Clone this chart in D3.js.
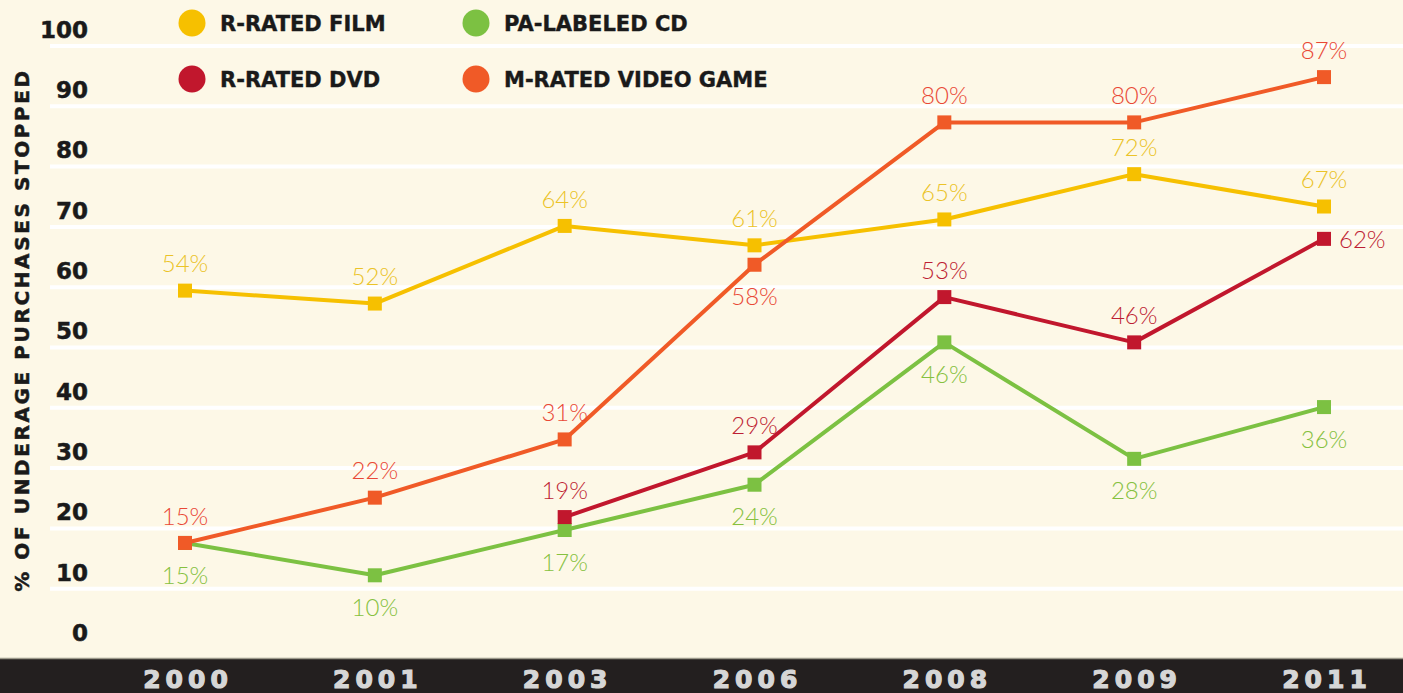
<!DOCTYPE html>
<html>
<head>
<meta charset="utf-8">
<script src="https://cdn.jsdelivr.net/npm/d3@7"></script>
<style>
  html, body { margin: 0; padding: 0; background: #fdf8e7; }
  svg { display: block; }
</style>
</head>
<body>
<script>
// data
const years = ['2000', '2001', '2003', '2006', '2008', '2009', '2011'];
const filmValues = [54, 52, 64, 61, 65, 72, 67];
const cdValues = [15, 10, 17, 24, 46, 28, 36];
const dvdValues = [null, null, 19, 29, 53, 46, 62];
const gameValues = [15, 22, 31, 58, 80, 80, 87];
const yTicks = [0, 10, 20, 30, 40, 50, 60, 70, 80, 90, 100];
const seriesNames = ['R-RATED FILM', 'PA-LABELED CD', 'R-RATED DVD', 'M-RATED VIDEO GAME'];

const width = 1403, height = 693;

// where each value label sits relative to its marker
const series = [
  { name: seriesNames[0], values: filmValues, line: '#f6c000', text: '#ebc328',
    place: ['up', 'up', 'up', 'up', 'up', 'up', 'up'] },
  { name: seriesNames[1], values: cdValues, line: '#7cc142', text: '#86c140',
    place: ['down', 'down', 'down', 'down', 'down', 'down', 'down'] },
  { name: seriesNames[2], values: dvdValues, line: '#c1172d', text: '#bd1f34',
    place: [null, null, 'up', 'up', 'up', 'up', 'right'] },
  { name: seriesNames[3], values: gameValues, line: '#f05a27', text: '#e94836',
    place: ['up', 'up', 'up', 'down', 'up', 'up', 'up'] }
];

const svg = d3.select('body').append('svg')
  .attr('width', width)
  .attr('height', height);

svg.append('rect')
  .attr('width', width).attr('height', height)
  .attr('fill', '#fdf8e7');

const x = d3.scalePoint().domain(years).range([185, 1324]);
// the printed tick labels and the plotted points use different spacing in the original
const yLabel = d3.scaleLinear().domain([0, 100]).range([633, 30]);
const y = d3.scaleLinear().domain([0, 100]).range([640, -7]);

// gridlines (white bands just under each tick label)
svg.append('g')
  .selectAll('line')
  .data(yTicks.filter(d => d > 0))
  .join('line')
  .attr('x1', 50).attr('x2', width)
  .attr('y1', d => yLabel(d) + 16).attr('y2', d => yLabel(d) + 16)
  .attr('stroke', '#ffffff')
  .attr('stroke-width', 4);

// y tick labels
const yAxis = svg.append('g')
  .attr('transform', 'translate(88,0)')
  .call(d3.axisLeft(yLabel).tickValues(yTicks).tickSize(0).tickPadding(0));
yAxis.select('.domain').remove();
yAxis.selectAll('text')
  .attr('font-family', 'DejaVu Sans')
  .attr('font-weight', 'bold')
  .attr('font-size', 23)
  .attr('fill', '#1a1a1a')
  .attr('stroke', '#1a1a1a')
  .attr('stroke-width', 0.5);

// y title
svg.append('text')
  .attr('transform', 'translate(29,330) rotate(-90)')
  .attr('text-anchor', 'middle')
  .attr('font-family', 'DejaVu Sans')
  .attr('font-weight', 'bold')
  .attr('font-size', 20)
  .attr('letter-spacing', 2.6)
  .attr('fill', '#1a1a1a')
  .attr('stroke', '#1a1a1a')
  .attr('stroke-width', 0.5)
  .text('% OF UNDERAGE PURCHASES STOPPED');

// bottom band with years
svg.append('rect')
  .attr('x', 0).attr('y', 658)
  .attr('width', width).attr('height', height - 658)
  .attr('fill', '#231f1f');
svg.append('line')
  .attr('x1', 0).attr('x2', width)
  .attr('y1', 658.5).attr('y2', 658.5)
  .attr('stroke', '#9d9a8c').attr('stroke-width', 1.5);

const xAxis = svg.append('g')
  .attr('transform', 'translate(0,679)')
  .call(d3.axisBottom(x).tickSize(0).tickPadding(0));
xAxis.select('.domain').remove();
xAxis.selectAll('text')
  .attr('dy', '0.36em')
  .attr('dx', 2.5)
  .attr('font-family', 'DejaVu Sans')
  .attr('font-weight', 'bold')
  .attr('font-size', 25)
  .attr('letter-spacing', 5)
  .attr('fill', '#d6d6d6')
  .attr('stroke', '#d6d6d6')
  .attr('stroke-width', 1.2);

// lines, markers, labels
const line = d3.line()
  .defined(d => d.v != null)
  .x(d => x(d.year))
  .y(d => y(d.v));

const marks = svg.append('g');
series.forEach(s => {
  const pts = years.map((year, j) => ({ year, v: s.values[j], place: s.place[j] }));
  const g = marks.append('g');
  g.append('path')
    .datum(pts)
    .attr('d', line)
    .attr('fill', 'none')
    .attr('stroke', s.line)
    .attr('stroke-width', 4)
    .attr('stroke-linejoin', 'round');
  const valid = pts.filter(d => d.v != null);
  g.selectAll('rect')
    .data(valid)
    .join('rect')
    .attr('x', d => x(d.year) - 7)
    .attr('y', d => y(d.v) - 7)
    .attr('width', 14).attr('height', 14)
    .attr('fill', s.line);
  g.selectAll('text')
    .data(valid)
    .join('text')
    .attr('x', d => d.place === 'right' ? x(d.year) + 15 : x(d.year))
    .attr('y', d => d.place === 'up' ? y(d.v) - 27 : d.place === 'down' ? y(d.v) + 32 : y(d.v))
    .attr('dy', '0.36em')
    .attr('text-anchor', d => d.place === 'right' ? 'start' : 'middle')
    .attr('font-family', 'Lato')
    .attr('font-weight', 300)
    .attr('font-size', 24)
    .attr('fill', s.text)
    .text(d => d.v + '%');
});

// legend
const legendPos = [[192, 23], [476, 23], [192, 79], [476, 79]];
const legend = svg.append('g')
  .selectAll('g')
  .data(series)
  .join('g')
  .attr('transform', (d, i) => `translate(${legendPos[i][0]},${legendPos[i][1]})`);
legend.append('circle')
  .attr('r', 13.5)
  .attr('fill', d => d.line);
legend.append('text')
  .attr('x', 28)
  .attr('dy', '0.36em')
  .attr('font-family', 'DejaVu Sans')
  .attr('font-weight', 'bold')
  .attr('font-size', 21)
  .attr('fill', '#1a1a1a')
  .attr('stroke', '#1a1a1a')
  .attr('stroke-width', 0.4)
  .text(d => d.name);
</script>
</body>
</html>
